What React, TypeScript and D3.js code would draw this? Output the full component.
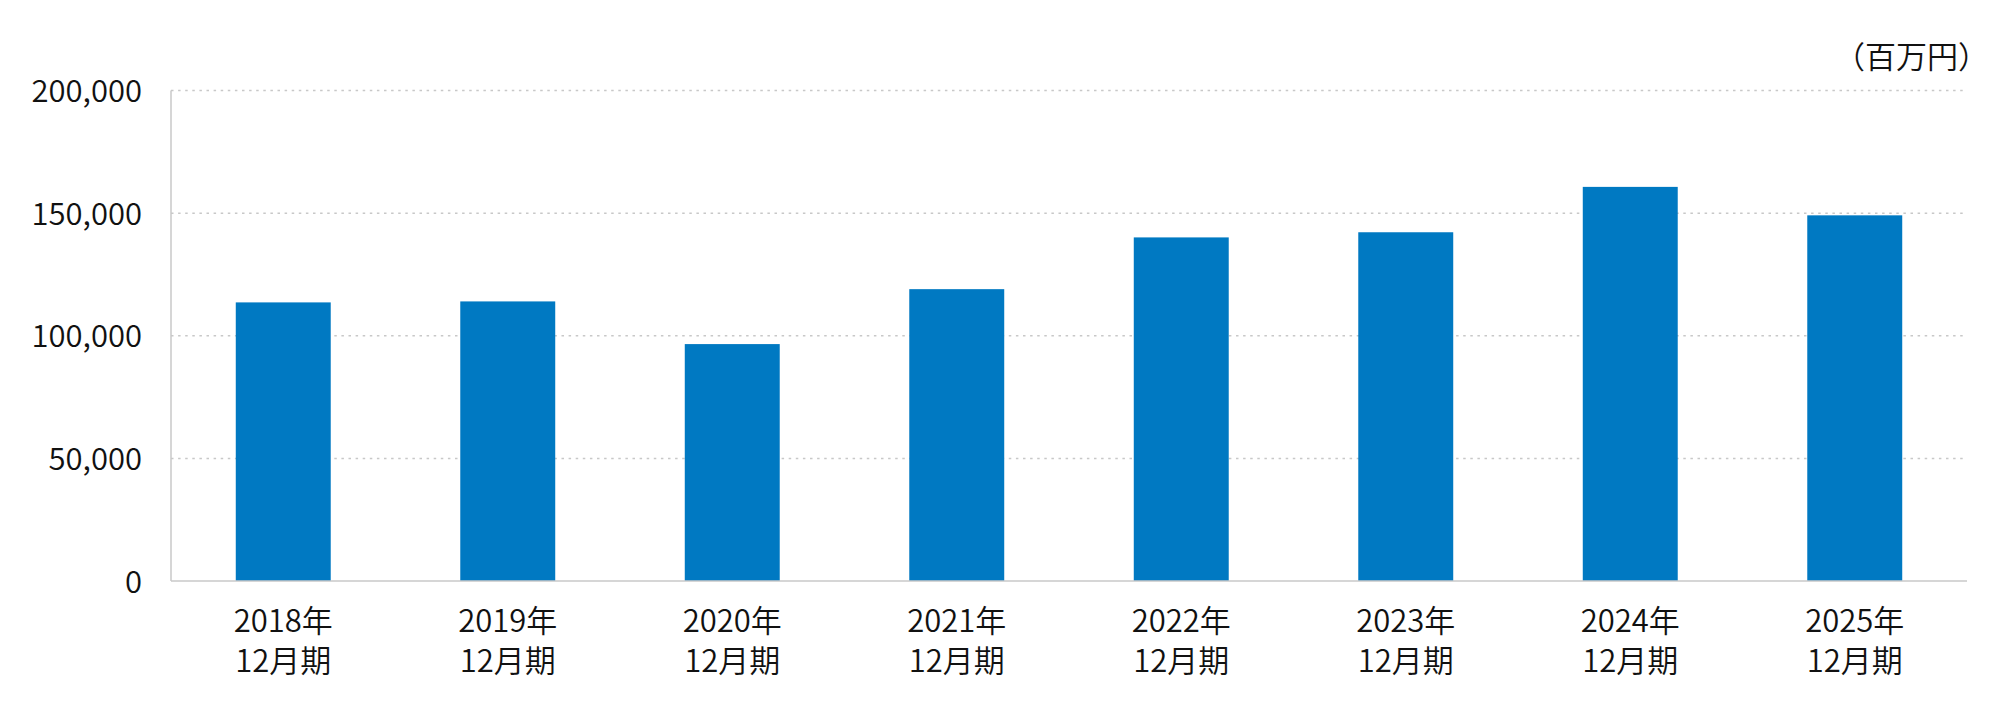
import { useEffect, useRef } from 'react';
import * as d3 from 'd3';

// Fiscal periods (two-line labels)
const periodYears = ['2018年', '2019年', '2020年', '2021年', '2022年', '2023年', '2024年', '2025年'];
const periodMonths = ['12月期', '12月期', '12月期', '12月期', '12月期', '12月期', '12月期', '12月期'];

// Values in millions of yen
const values = [113600, 114000, 96600, 119000, 140100, 142200, 160700, 149100];

const yTicks = [0, 50000, 100000, 150000, 200000];
const unitLabel = '（百万円）';

const App = () => {
  const svgRef = useRef<SVGSVGElement | null>(null);

  useEffect(() => {
    if (!svgRef.current) return;

    d3.select(svgRef.current).selectAll('*').remove();

    const width = 2000;
    const height = 714;
    const margin = { top: 90.5, right: 33, bottom: 133, left: 171 };
    const font = '"Noto Sans CJK JP", "Noto Sans", sans-serif';
    const textColor = '#111';

    const svg = d3.select(svgRef.current)
      .attr('width', width)
      .attr('height', height);

    const x = d3.scaleBand<number>()
      .domain(d3.range(values.length))
      .range([margin.left, width - margin.right])
      .paddingInner(0.577)
      .paddingOuter(0.2885);

    const y = d3.scaleLinear()
      .domain([0, 200000])
      .range([height - margin.bottom, margin.top]);

    // Dotted gridlines
    svg.append('g')
      .selectAll('line')
      .data(yTicks.filter((t) => t > 0))
      .join('line')
      .attr('x1', margin.left)
      .attr('x2', width - margin.right)
      .attr('y1', (d) => y(d))
      .attr('y2', (d) => y(d))
      .attr('stroke', '#c8c8c8')
      .attr('stroke-width', 1.5)
      .attr('stroke-dasharray', '2.5 4.6');

    // Bars
    svg.append('g')
      .selectAll('rect')
      .data(values)
      .join('rect')
      .attr('x', (_, i) => x(i)!)
      .attr('y', (d) => y(d))
      .attr('width', x.bandwidth())
      .attr('height', (d) => y(0) - y(d))
      .attr('fill', '#0079c2');

    // Axis lines
    svg.append('line')
      .attr('x1', margin.left)
      .attr('x2', margin.left)
      .attr('y1', y(200000))
      .attr('y2', y(0))
      .attr('stroke', '#c8c8c8')
      .attr('stroke-width', 1.5);
    svg.append('line')
      .attr('x1', margin.left)
      .attr('x2', width - margin.right)
      .attr('y1', y(0))
      .attr('y2', y(0))
      .attr('stroke', '#c8c8c8')
      .attr('stroke-width', 1.5);

    // Y tick labels
    svg.append('g')
      .selectAll('text')
      .data(yTicks)
      .join('text')
      .attr('x', margin.left - 29)
      .attr('y', (d) => y(d) + 11.5)
      .attr('text-anchor', 'end')
      .attr('font-family', font)
      .attr('font-size', 31)
      .attr('font-weight', 350)
      .attr('fill', textColor)
      .text((d) => d3.format(',')(d));

    // X labels, two lines each
    const idx = values.map((_, i) => i);
    svg.append('g')
      .selectAll('text')
      .data(idx)
      .join('text')
      .attr('x', (i) => x(i)! + x.bandwidth() / 2)
      .attr('y', 632)
      .attr('text-anchor', 'middle')
      .attr('font-family', font)
      .attr('font-size', 31)
      .attr('font-weight', 350)
      .attr('fill', textColor)
      .text((i) => periodYears[i]);
    svg.append('g')
      .selectAll('text')
      .data(idx)
      .join('text')
      .attr('x', (i) => x(i)! + x.bandwidth() / 2)
      .attr('y', 672)
      .attr('text-anchor', 'middle')
      .attr('font-family', font)
      .attr('font-size', 31)
      .attr('font-weight', 350)
      .attr('fill', textColor)
      .text((i) => periodMonths[i]);

    // Unit label
    svg.append('text')
      .attr('x', 1989)
      .attr('y', 68)
      .attr('text-anchor', 'end')
      .attr('font-family', font)
      .attr('font-size', 31)
      .attr('font-weight', 350)
      .attr('fill', textColor)
      .text(unitLabel);
  }, []);

  return (
    <svg
      ref={svgRef}
      style={{ position: 'absolute', left: 0, top: 0, background: '#fff' }}
    ></svg>
  );
};

export default App;
